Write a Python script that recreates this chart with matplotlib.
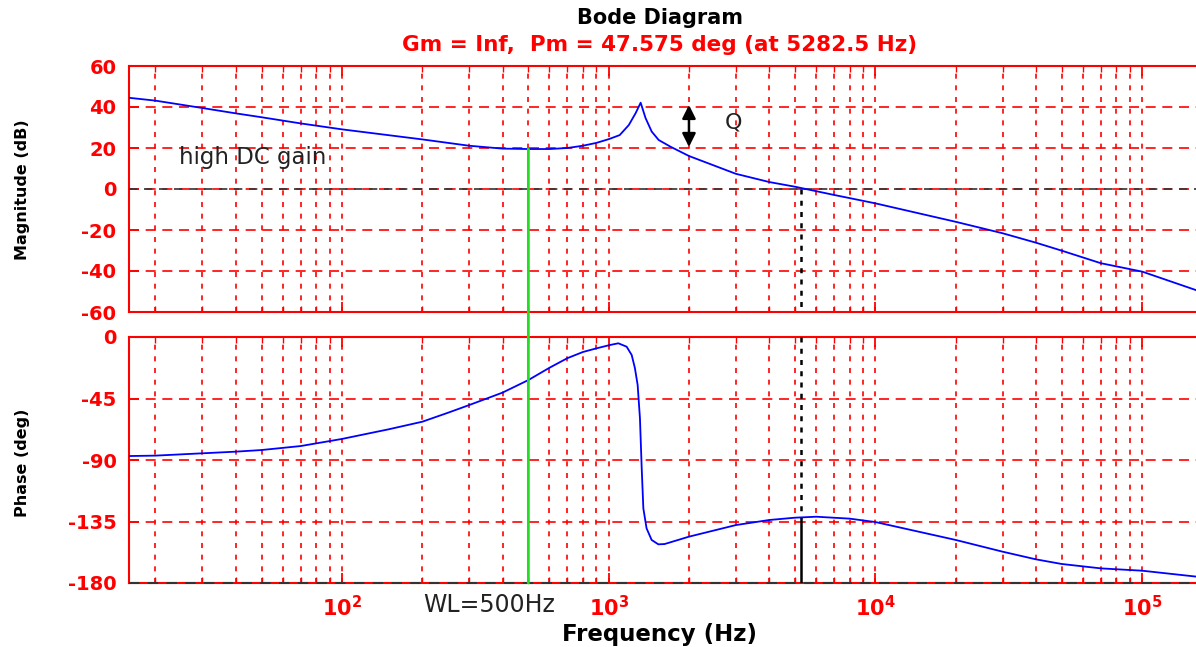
import matplotlib
matplotlib.use('Agg')
import matplotlib.pyplot as plt
from matplotlib.patches import ConnectionPatch
from matplotlib.ticker import LogLocator, NullFormatter

# magnitude curve (Hz, dB)
mag_freq = [15.9, 20, 30, 40, 50, 70, 100, 200, 300, 400, 500, 600, 700, 800,
            900, 1000, 1100, 1190, 1262, 1318, 1375, 1450, 1540, 1707, 2000,
            3000, 4000, 5000, 7000, 10000, 20000, 30000, 40000, 50000, 70000,
            100000, 159000]
mag_db = [44.5, 43.1, 39.5, 36.9, 35.0, 32.0, 29.1, 24.2, 21.1, 19.7, 19.5,
          19.5, 20.0, 21.1, 22.5, 24.3, 26.3, 31.2, 37.0, 42.1, 34.6, 28.0,
          23.9, 20.6, 16.1, 7.4, 3.4, 1.1, -2.9, -7.0, -16.0, -21.6, -26.2,
          -30.1, -36.2, -40.3, -49.3]

# phase curve (Hz, deg)
phase_freq = [15.9, 20, 30, 40, 50, 70, 100, 150, 200, 250, 300, 400, 500,
              600, 700, 800, 900, 1009, 1087, 1168, 1220, 1254, 1284, 1310,
              1330, 1349, 1387, 1449, 1535, 1620, 2000, 3000, 4000, 5000,
              6000, 8000, 10000, 20000, 30000, 40000, 50000, 70000, 100000,
              159000]
phase_deg = [-87.1, -86.8, -85.1, -83.9, -82.7, -79.8, -74.6, -67.5, -62.0,
             -55.4, -49.8, -40.7, -31.5, -22.5, -15.5, -11.0, -8.3, -5.9,
             -4.6, -7.1, -13.2, -22.7, -35.0, -59.5, -96.0, -125.4, -140.0,
             -148.5, -151.7, -151.5, -146.1, -137.6, -133.9, -132.2, -131.5,
             -132.9, -135.4, -148.5, -157.1, -162.7, -166.1, -169.3, -171.0,
             -175.3]

mag_ticks = [60, 40, 20, 0, -20, -40, -60]
phase_ticks = [0, -45, -90, -135, -180]
freq_ticks = [1e2, 1e3, 1e4, 1e5]
freq_labels = [r'$\mathbf{10^{2}}$', r'$\mathbf{10^{3}}$',
               r'$\mathbf{10^{4}}$', r'$\mathbf{10^{5}}$']

f_min, f_max = 15.915, 159155
f_cross = 5282.5
phase_margin = 47.575
f_wl = 500
mag_wl = 19.5
f_q = 2000
q_top, q_bottom = 41, 20.5

W, H = 1196, 647
fig = plt.figure(figsize=(W / 100, H / 100), dpi=100)
ax1 = fig.add_axes([129 / W, 1 - 312 / H, (W - 129) / W, 246 / H])
ax2 = fig.add_axes([129 / W, 1 - 583 / H, (W - 129) / W, 246 / H])


def _style_axis(ax, yticks):
    ax.set_xscale('log')
    ax.set_xlim(f_min, f_max)
    ax.set_ylim(min(yticks), max(yticks))
    ax.set_yticks(yticks)
    ax.set_yticklabels([str(t) for t in yticks], color='red',
                       fontweight='bold', fontsize=14)
    ax.xaxis.set_minor_locator(LogLocator(base=10, subs=range(2, 10), numticks=20))
    ax.xaxis.set_minor_formatter(NullFormatter())
    ax.set_xticks(freq_ticks)
    ax.grid(which='major', axis='y', color='red', ls=(0, (6, 4)), lw=1.2)
    ax.grid(which='both', axis='x', color='red', ls=(0, (3, 4)), lw=1.2)
    ax.tick_params(which='both', direction='in', color='red', top=True,
                   pad=9)
    ax.tick_params(which='major', length=7, width=1.3)
    ax.tick_params(which='minor', length=4, width=1.0)
    for side, spine in ax.spines.items():
        spine.set_color('red')
        spine.set_linewidth(1.5)
    ax.spines['right'].set_visible(False)


_style_axis(ax1, mag_ticks)
_style_axis(ax2, phase_ticks)
ax1.set_xticklabels([])
ax2.set_xticklabels(freq_labels, color='red', fontsize=15)

ax1.plot(mag_freq, mag_db, color='#0000ff', lw=1.3, zorder=4)
ax2.plot(phase_freq, phase_deg, color='#0000ff', lw=1.3, zorder=4)

# reference lines (0 dB, -180 deg) and crossover markers
ax1.axhline(0, color='#333333', ls=(0, (5, 4)), lw=1.2, zorder=3)
ax2.axhline(-180, color='#333333', ls=(0, (5, 4)), lw=1.5, zorder=3,
            clip_on=False)
ax1.plot([f_cross, f_cross], [0, -60], color='black', ls=(0, (2, 2.5)),
         lw=1.8, zorder=3)
ax2.plot([f_cross, f_cross], [0, phase_margin - 180], color='black',
         ls=(0, (2, 2.5)), lw=1.8, zorder=3)
ax2.plot([f_cross, f_cross], [phase_margin - 180, -180], color='black',
         lw=1.8, zorder=3)

# green WL marker from the magnitude curve down to the phase axis bottom
con = ConnectionPatch(xyA=(f_wl, mag_wl), coordsA=ax1.transData,
                      xyB=(f_wl, -180), coordsB=ax2.transData,
                      color='#22dd22', lw=2, zorder=5)
fig.add_artist(con)

# Q arrow
ax1.annotate('', xy=(f_q, q_top), xytext=(f_q, q_bottom),
             arrowprops=dict(arrowstyle='<|-|>', color='black', lw=1.8,
                             mutation_scale=20, shrinkA=0, shrinkB=0))
ax1.text(2940, 32.5, 'Q', fontsize=16, color='#222222', ha='center',
         va='center')
ax1.text(24.5, 15.6, 'high DC gain', fontsize=16.5, color='#222222',
         ha='left', va='center')
ax2.text(355, -196, 'WL=500Hz', fontsize=17, color='#222222', ha='center',
         va='center', clip_on=False)

fig.text(660 / W, 1 - 18 / H, 'Bode Diagram', ha='center', va='center',
         fontweight='bold', fontsize=15, color='black')
fig.text(660 / W, 1 - 45 / H, 'Gm = Inf,  Pm = 47.575 deg (at 5282.5 Hz)',
         ha='center', va='center', fontweight='bold', fontsize=15.5,
         color='red')
fig.text(22 / W, 1 - 190 / H, 'Magnitude (dB)', rotation=90, ha='center',
         va='center', fontweight='bold', fontsize=11.5)
fig.text(22 / W, 1 - 463 / H, 'Phase (deg)', rotation=90, ha='center',
         va='center', fontweight='bold', fontsize=11.5)
fig.text(660 / W, 1 - 634 / H, 'Frequency (Hz)', ha='center', va='center',
         fontweight='bold', fontsize=16.5)

fig.savefig('out.png', dpi=100)
